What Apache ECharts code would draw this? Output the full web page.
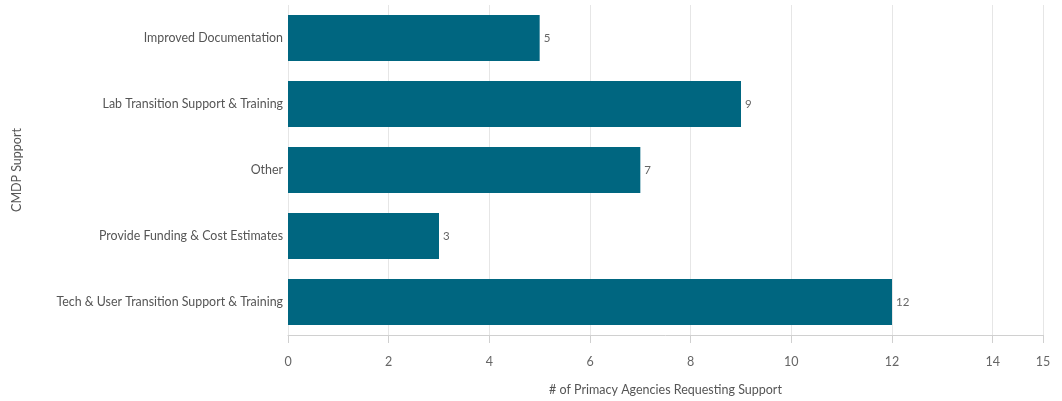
<!DOCTYPE html>
<html>
<head>
<meta charset="utf-8">
<script src="https://cdn.jsdelivr.net/npm/echarts@6/dist/echarts.min.js"></script>
<style>
  html, body { margin: 0; padding: 0; background: #fff; }
  #chart { width: 1062px; height: 401px; }
</style>
</head>
<body>
<div id="chart"></div>
<script>
// categories listed top to bottom
const categories = [
  'Improved Documentation',
  'Lab Transition Support & Training',
  'Other',
  'Provide Funding & Cost Estimates',
  'Tech & User Transition Support & Training'
]
const agencyCounts = [5, 9, 7, 3, 12]
const xAxisTitle = '# of Primacy Agencies Requesting Support'
const yAxisTitle = 'CMDP Support'

const font = 'Lato, "Noto Sans", sans-serif'
const chart = echarts.init(document.getElementById('chart'))

chart.setOption({
  animation: false,
  textStyle: { fontFamily: font },
  grid: { left: 288, right: 19, top: 5, bottom: 64 },
  xAxis: {
    type: 'value',
    min: 0,
    max: 15,
    interval: 2,
    name: xAxisTitle,
    nameLocation: 'middle',
    nameGap: 48,
    nameTextStyle: { color: '#555', fontSize: 12.5, fontFamily: font },
    axisLine: { show: true, lineStyle: { color: '#d0d0d0' } },
    axisTick: { show: true, length: 8, lineStyle: { color: '#d0d0d0' } },
    axisLabel: { color: '#666', fontSize: 12.5, margin: 20, fontFamily: font },
    splitLine: { show: true, lineStyle: { color: '#e6e6e6' } }
  },
  yAxis: {
    type: 'category',
    inverse: true,
    data: categories,
    name: yAxisTitle,
    nameLocation: 'middle',
    nameGap: 265,
    nameRotate: 90,
    nameTextStyle: { color: '#555', fontSize: 12.5, fontFamily: font },
    axisLine: { show: false },
    axisTick: { show: false },
    axisLabel: { color: '#555', fontSize: 12.4, margin: 5, fontFamily: font }
  },
  series: [{
    type: 'bar',
    data: agencyCounts,
    barCategoryGap: '30%',
    itemStyle: { color: '#006680' },
    label: {
      show: true,
      position: 'right',
      distance: 4,
      color: '#666',
      fontSize: 11.5,
      fontFamily: font
    }
  }]
})
</script>
</body>
</html>
